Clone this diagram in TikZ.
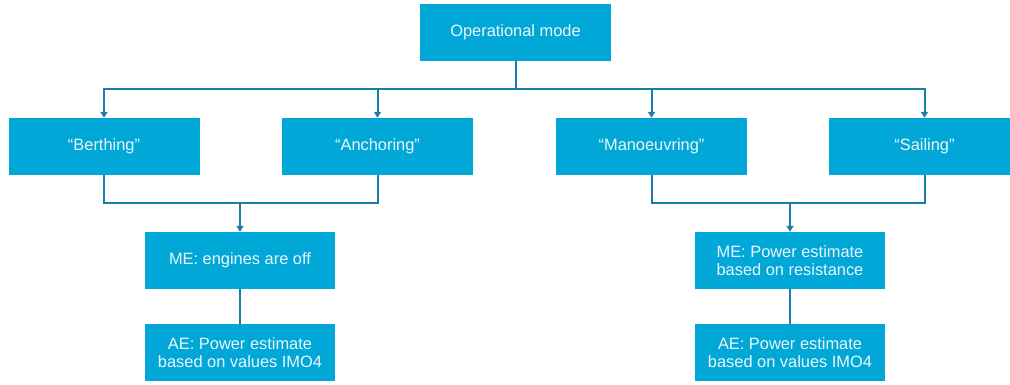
\documentclass[tikz,border=0pt]{standalone}
\usepackage{fontspec}
\setmainfont{Liberation Sans}
\usetikzlibrary{arrows.meta}
\definecolor{boxfill}{HTML}{00A7D7}
\definecolor{linkline}{HTML}{1A7FA4}
\definecolor{boxtext}{HTML}{EAF8FD}
\tikzset{
  modebox/.style={rectangle, fill=boxfill, draw=none, minimum width=191pt,
    minimum height=57pt, inner sep=0pt, align=center, text=boxtext,
    font=\fontsize{16.4}{18.5}\selectfont},
  link/.style={draw=linkline, line width=2pt},
  arr/.style={link, -{Triangle[length=6pt,width=7pt]}}
}
\begin{document}
\begin{tikzpicture}[x=1pt,y=-1pt]
\useasboundingbox (0,0) rectangle (1010,385);
\clip (0,0) rectangle (1010,385);

% Top level
\node[modebox] (top) at (515.5,32.5) {Operational mode};

% Modes
\node[modebox] (berth) at (104,146.5) {“Berthing”};
\node[modebox] (anch)  at (377.5,146.5) {“Anchoring”};
\node[modebox] (mano)  at (651.5,146.5) {“Manoeuvring”};
\node[modebox] (sail)  at (924.5,146.5) {“Sailing”};

% Engine estimates
\node[modebox, minimum width=190pt] (meL) at (240,260.5) {ME: engines are off};
\node[modebox, minimum width=190pt] (aeL) at (240,352.5) {AE: Power estimate\\based on values IMO4};
\node[modebox, minimum width=190pt] (meR) at (790,260.5) {ME: Power estimate\\based on resistance};
\node[modebox, minimum width=190pt] (aeR) at (790,352.5) {AE: Power estimate\\based on values IMO4};

% Distribution bus under the top box
\coordinate (hub) at (515.5,89);
\draw[link] (top.south) -- (hub);
\draw[arr] (hub) -| (berth.north);
\draw[arr] (hub) -| (anch.north);
\draw[arr] (hub) -| (mano.north);
\draw[arr] (hub) -| (sail.north);

% Merging lines
\coordinate (mL) at (240,203);
\coordinate (mR) at (790,203);
\draw[link] (berth.south) |- (mL);
\draw[link] (anch.south) |- (mL);
\draw[arr] (mL) -- (meL.north);
\draw[link] (mano.south) |- (mR);
\draw[link] (sail.south) |- (mR);
\draw[arr] (mR) -- (meR.north);

% ME to AE
\draw[link] (meL.south) -- (aeL.north);
\draw[link] (meR.south) -- (aeR.north);
\end{tikzpicture}
\end{document}
